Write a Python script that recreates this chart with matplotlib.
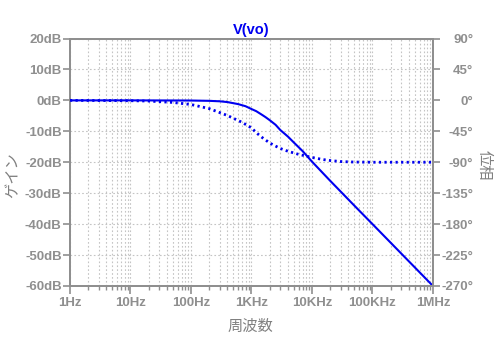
import matplotlib
matplotlib.use("Agg")
import matplotlib.pyplot as plt
from matplotlib.ticker import FixedLocator, LogLocator, NullFormatter

# values (frequency in Hz)
freq_gain = [1, 10, 100, 200, 300, 400, 600, 800, 1000, 1200, 1500, 1700, 2000,
             2500, 3000, 4000, 5000, 7000, 10000, 20000, 50000, 100000, 1000000]
gain_db = [0, 0, -0.05, -0.15, -0.3, -0.55, -1.2, -1.9, -2.8, -3.5, -4.7, -5.4, -6.4,
           -7.9, -9.6, -11.7, -13.6, -16.4, -19.8, -26, -34, -40, -60]

freq_phase = [1, 10, 20, 50, 100, 200, 400, 700, 1000, 1200, 1500, 2000, 2500, 3000,
              4000, 5000, 6000, 8000, 10000, 15000, 20000, 30000, 50000, 100000, 1000000]
phase_deg = [0, -0.5, -1, -3, -6, -12, -22, -32, -40, -47, -54, -62, -66.5, -70,
             -74, -76.5, -78.5, -81, -83, -86, -87.5, -89, -89.7, -90, -90]

x_ticks = [1, 10, 100, 1e3, 1e4, 1e5, 1e6]
x_labels = ["1Hz", "10Hz", "100Hz", "1KHz", "10KHz", "100KHz", "1MHz"]
gain_ticks = [20, 10, 0, -10, -20, -30, -40, -50, -60]
phase_ticks = [90, 45, 0, -45, -90, -135, -180, -225, -270]

GRAY = "#8f8f8f"
GRID = "#c4c4c4"
BLUE = "#0000f0"
CJK = ["Noto Sans CJK JP", "DejaVu Sans"]

fig = plt.figure(figsize=(5.02, 3.46), dpi=100)
ax = fig.add_axes([70 / 502, 1 - 286 / 346, 363 / 502, 247.5 / 346])
ax2 = ax.twinx()

ax.plot(freq_gain, gain_db, color=BLUE, lw=1.5, zorder=3)
ax2.plot(freq_phase, phase_deg, color=BLUE, lw=2.0, linestyle=(0, (0.8, 1.2)), zorder=3)

ax.set_xscale("log")
ax.set_xlim(1, 1e6)
ax.set_ylim(-60, 20)
ax2.set_ylim(-270, 90)

ax.xaxis.set_major_locator(FixedLocator(x_ticks))
ax.set_xticklabels(x_labels)
ax.xaxis.set_minor_locator(LogLocator(base=10, subs=range(2, 10), numticks=20))
ax.xaxis.set_minor_formatter(NullFormatter())
ax.set_yticks(gain_ticks)
ax.set_yticklabels([f"{v}dB" for v in gain_ticks])
ax2.set_yticks(phase_ticks)
ax2.set_yticklabels([f"{v}°" for v in phase_ticks])

ax.grid(True, which="both", axis="x", color=GRID, linestyle=(0, (1.5, 2)), lw=0.8)
ax.grid(True, which="major", axis="y", color=GRID, linestyle=(0, (1.5, 2)), lw=0.8)

for a in (ax, ax2):
    for s in a.spines.values():
        s.set_color(GRAY)
        s.set_linewidth(1.4)

font = {"family": "Liberation Sans", "weight": "bold", "size": 9.5}
ax.tick_params(axis="x", which="major", length=6, width=1.2, color=GRAY,
               labelcolor=GRAY, pad=2)
ax.tick_params(axis="x", which="minor", length=3, width=1.0, color=GRAY)
ax.tick_params(axis="y", length=5, width=1.2, color=GRAY, labelcolor=GRAY, pad=1)
ax2.tick_params(axis="y", length=5, width=1.2, color=GRAY, labelcolor=GRAY, pad=24)
for lbl in ax.get_xticklabels() + ax.get_yticklabels() + ax2.get_yticklabels():
    lbl.set_fontproperties(font)
for lbl in ax2.get_yticklabels():
    lbl.set_horizontalalignment("right")

fig.text(0.5, 1 - 30 / 346, "V(vo)", color=BLUE, ha="center", va="center",
         family="Liberation Sans", weight="bold", fontsize=10.5)
fig.text(13 / 502, 1 - 175 / 346, "ゲイン", rotation=90, ha="center", va="center",
         color="#808080", family=CJK, fontsize=11)
fig.text(484 / 502, 1 - 165 / 346, "位相", rotation=270, ha="center", va="center",
         color="#808080", family=CJK, fontsize=11)
fig.text(250 / 502, 1 - 326 / 346, "周波数", ha="center", va="center",
         color="#808080", family=CJK, fontsize=11)

fig.savefig("out.png", dpi=100)
